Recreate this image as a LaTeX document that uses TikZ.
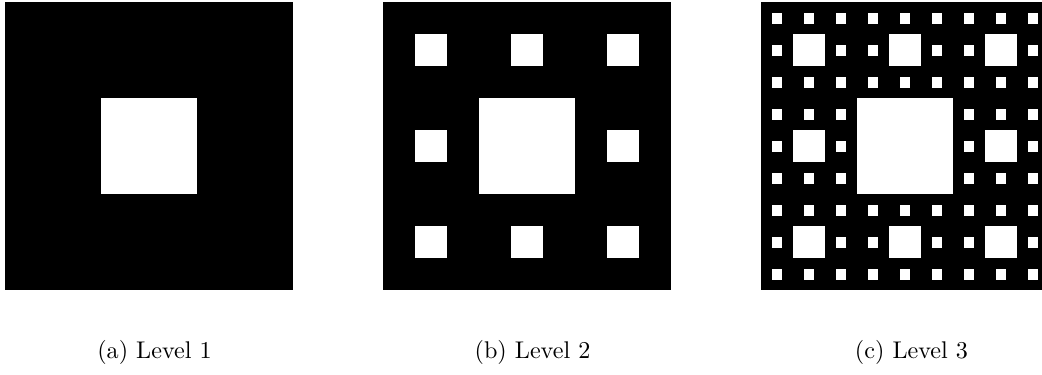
\documentclass[tikz,border=0pt]{standalone}
\begin{document}
\begin{tikzpicture}[x=0.414pt,y=-0.414pt,
  caption/.style={anchor=base,inner sep=0pt,font=\normalsize}]
\useasboundingbox (0,0) rectangle (1042,375);
\clip (0,0) rectangle (1042,375);
\newcommand\mycarpet[3]{%
  \fill[black] (#1,#2) rectangle ++(288,288);
  \foreach \k in {1,...,#3}{
    \pgfmathsetmacro\mycn{int(3^(\k-1))}
    \pgfmathsetmacro\mys{288/(3^\k)}
    \foreach \a in {1,...,\mycn}{
      \foreach \b in {1,...,\mycn}{
        \fill[white] ({#1+(3*(\a-1)+1)*\mys},{#2+(3*(\b-1)+1)*\mys}) rectangle ++(\mys,\mys);
      }
    }
  }
}
\mycarpet{5}{2.5}{1}
\mycarpet{383}{2.5}{2}
\mycarpet{761}{2.5}{3}
\node[caption] (capa) at (154.5,358) {(a) Level 1};
\node[caption] (capb) at (532.5,358) {(b) Level 2};
\node[caption] (capc) at (911.5,358) {(c) Level 3};
\end{tikzpicture}
\end{document}
